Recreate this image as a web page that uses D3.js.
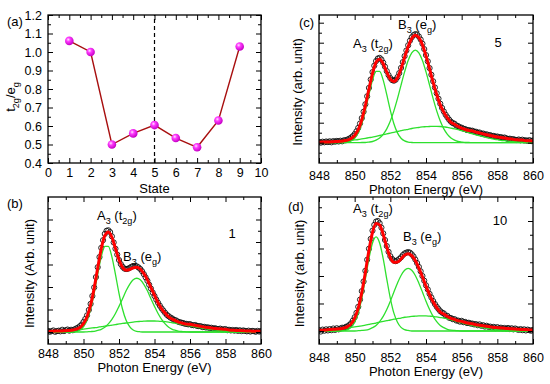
<!DOCTYPE html>
<html>
<head>
<meta charset="utf-8">
<script src="https://cdn.jsdelivr.net/npm/d3@7"></script>
<style>
  body { margin: 0; background: #fff; }
  svg { display: block; font-family: "Liberation Sans", Arial, sans-serif; }
</style>
</head>
<body>
<div id="container"></div>
<script>
/* DATA */
// (a) t2g/eg ratio per state
const states = [1, 2, 3, 4, 5, 6, 7, 8, 9];
const ratio = [1.06, 1.00, 0.50, 0.56, 0.605, 0.535, 0.485, 0.63, 1.03];
const markState = 5;

// spectra: measured points every 0.1 eV, fit curves every 0.2 eV, from 848 eV
const eStart = 848, dataStep = 0.1, fitStep = 0.2;

// state 1
const data1 = [.05,.01,.04,.07,.01,.04,.06,.03,.10,.04,
  .08,.11,.06,.10,.08,.12,.16,.20,.26,.33,
  .45,.58,.74,.98,1.25,1.60,1.98,2.44,2.88,3.33,
  3.74,4.08,4.36,4.50,4.52,4.44,4.25,3.98,3.70,3.44,
  3.20,3.02,2.90,2.82,2.80,2.81,2.85,2.90,2.93,2.94,
  2.92,2.87,2.80,2.70,2.57,2.43,2.28,2.10,1.93,1.75,
  1.60,1.44,1.30,1.17,1.05,.95,.85,.76,.70,.64,
  .60,.54,.52,.47,.44,.42,.40,.37,.36,.34,
  .35,.31,.30,.31,.27,.26,.26,.22,.23,.20,
  .21,.18,.19,.15,.17,.14,.13,.15,.11,.12,
  .13,.08,.10,.07,.09,.06,.09,.05,.08,.04,
  .07,.05,.03,.06,.02,.05,.04,.01,.05,.02,
  .04];
const fit1 = [.02,.03,.04,.04,.05,.06,.07,.09,.13,.20,.37,.68,1.20,1.94,2.84,3.70,4.28,4.45,4.21,3.71,
  3.22,2.87,2.75,2.78,2.85,2.88,2.80,2.60,2.32,1.97,1.63,1.30,1.03,.84,.67,.57,.50,.43,.39,.35,
  .34,.31,.28,.25,.22,.20,.18,.16,.14,.13,.12,.09,.08,.07,.07,.06,.04,.04,.03,.03,.03];
const a3Fit1 = [0,0,0,0,0,0,0,.01,.03,.09,.24,.52,1.01,1.72,2.56,3.34,3.81,3.81,3.34,2.56,
  1.72,1.01,.52,.24,.09,.03,.01,0,0,0,0,0,0,0,0,0,0,0,0,0,
  0,0,0,0,0,0,0,0,0,0,0,0,0,0,0,0,0,0,0,0,0];
const b3Fit1 = [0,0,0,0,0,0,0,0,0,0,0,.01,.02,.03,.07,.12,.21,.36,.56,.82,
  1.14,1.48,1.83,2.12,2.32,2.39,2.32,2.12,1.83,1.48,1.14,.82,.56,.36,.21,.12,.07,.03,.02,.01,
  0,0,0,0,0,0,0,0,0,0,0,0,0,0,0,0,0,0,0,0,0];
const bgFit1 = [.02,.03,.04,.04,.05,.06,.07,.08,.10,.11,.13,.15,.17,.19,.21,.24,.26,.28,.31,.33,
  .36,.38,.40,.42,.44,.46,.47,.48,.49,.49,.49,.48,.47,.46,.44,.41,.39,.36,.33,.30,
  .27,.24,.21,.18,.15,.13,.11,.09,.07,.06,.05,.04,.03,.02,.02,.01,.01,.01,.01,0,0];

// state 5
const data5 = [.04,.00,.05,.02,.06,.03,.07,.02,.08,.05,
  .09,.06,.10,.07,.12,.12,.16,.20,.26,.33,
  .43,.57,.74,.96,1.23,1.55,1.92,2.32,2.74,3.16,
  3.53,3.85,4.08,4.21,4.24,4.16,4.00,3.80,3.58,3.38,
  3.23,3.13,3.10,3.15,3.28,3.48,3.74,4.03,4.33,4.61,
  4.87,5.10,5.27,5.38,5.43,5.41,5.31,5.16,4.95,4.68,
  4.38,4.07,3.73,3.40,3.07,2.76,2.47,2.20,1.95,1.74,
  1.56,1.40,1.27,1.15,1.05,.98,.95,.86,.83,.77,
  .75,.70,.68,.63,.63,.60,.60,.55,.55,.50,
  .51,.45,.46,.41,.42,.37,.38,.33,.34,.30,
  .31,.27,.28,.24,.26,.22,.19,.20,.17,.18,
  .14,.13,.16,.12,.15,.11,.12,.09,.13,.08,
  .11];
const fit5 = [.02,.03,.03,.04,.05,.06,.07,.10,.13,.21,.36,.65,1.15,1.85,2.68,3.47,4.02,4.17,3.95,3.53,
  3.18,3.06,3.25,3.70,4.27,4.81,5.21,5.37,5.25,4.90,4.34,3.69,3.02,2.41,1.89,1.53,1.24,1.02,.92,.81,
  .73,.66,.61,.59,.53,.49,.44,.40,.36,.32,.29,.26,.24,.20,.18,.15,.14,.13,.10,.10,.09];
const a3Fit5 = [0,0,0,0,0,0,0,.01,.03,.09,.22,.49,.95,1.62,2.40,3.13,3.57,3.57,3.13,2.40,
  1.62,.95,.49,.22,.09,.03,.01,0,0,0,0,0,0,0,0,0,0,0,0,0,
  0,0,0,0,0,0,0,0,0,0,0,0,0,0,0,0,0,0,0,0,0];
const b3Fit5 = [0,0,0,0,0,0,0,0,0,0,0,0,.01,.01,.03,.06,.13,.24,.42,.69,
  1.08,1.59,2.20,2.88,3.54,4.11,4.49,4.63,4.49,4.11,3.54,2.88,2.20,1.59,1.08,.69,.42,.24,.13,.06,
  .03,.01,.01,0,0,0,0,0,0,0,0,0,0,0,0,0,0,0,0,0,0];
const bgFit5 = [.02,.03,.03,.04,.05,.06,.07,.09,.10,.12,.14,.16,.19,.22,.25,.28,.32,.36,.40,.44,
  .48,.52,.56,.60,.64,.67,.71,.74,.76,.79,.80,.81,.82,.82,.81,.79,.77,.73,.69,.65,
  .60,.55,.50,.45,.39,.35,.30,.26,.22,.18,.15,.12,.10,.08,.06,.05,.04,.03,.02,.02,.01];

// state 10
const data10 = [.03,-.02,.05,.01,.06,.02,.07,.03,.09,.04,
  .10,.06,.09,.12,.11,.15,.17,.22,.28,.38,
  .50,.66,.88,1.14,1.45,1.80,2.19,2.59,2.99,3.35,
  3.65,3.86,3.98,4.00,3.92,3.76,3.55,3.31,3.09,2.88,
  2.72,2.62,2.56,2.54,2.57,2.62,2.68,2.76,2.82,2.85,
  2.87,2.85,2.79,2.71,2.60,2.47,2.33,2.17,2.00,1.83,
  1.66,1.51,1.35,1.22,1.09,.98,.88,.80,.72,.67,
  .64,.56,.55,.48,.47,.43,.43,.38,.38,.34,
  .37,.32,.33,.29,.30,.27,.27,.24,.25,.21,
  .24,.19,.21,.16,.19,.15,.16,.12,.15,.10,
  .14,.10,.12,.09,.11,.08,.11,.07,.10,.06,
  .09,.06,.04,.07,.03,.06,.02,.05,.03,.01,
  .04];
const fit10 = [.03,.03,.04,.05,.06,.07,.08,.11,.16,.26,.47,.83,1.40,2.13,2.93,3.59,3.91,3.86,3.51,3.05,
  2.67,2.50,2.51,2.62,2.76,2.81,2.74,2.56,2.29,1.97,1.63,1.32,1.06,.85,.69,.62,.53,.46,.42,.37,
  .35,.31,.28,.26,.23,.21,.19,.17,.15,.13,.12,.11,.10,.09,.08,.07,.06,.05,.05,.04,.04];
const a3Fit10 = [0,0,0,0,0,0,0,.02,.05,.13,.32,.65,1.19,1.89,2.63,3.20,3.42,3.20,2.63,1.89,
  1.19,.65,.32,.13,.05,.02,0,0,0,0,0,0,0,0,0,0,0,0,0,0,
  0,0,0,0,0,0,0,0,0,0,0,0,0,0,0,0,0,0,0,0,0];
const b3Fit10 = [0,0,0,0,0,0,0,0,0,0,0,.01,.02,.03,.06,.12,.20,.34,.53,.78,
  1.08,1.42,1.74,2.02,2.21,2.28,2.21,2.02,1.74,1.42,1.08,.78,.53,.34,.20,.12,.06,.03,.02,.01,
  0,0,0,0,0,0,0,0,0,0,0,0,0,0,0,0,0,0,0,0,0];
const bgFit10 = [.03,.03,.04,.05,.06,.07,.08,.09,.11,.13,.15,.17,.19,.21,.24,.27,.29,.32,.35,.38,
  .40,.43,.45,.47,.50,.51,.53,.54,.55,.55,.55,.54,.53,.51,.49,.47,.44,.40,.37,.33,
  .30,.26,.23,.20,.17,.15,.12,.10,.08,.07,.05,.04,.03,.03,.02,.02,.01,.01,.01,0,0];

// tick labels / annotations
const energyTicks = [848, 850, 852, 854, 856, 858, 860];
const stateTicks = [0, 1, 2, 3, 4, 5, 6, 7, 8, 9, 10];
const ratioTicks = [0.4, 0.5, 0.6, 0.7, 0.8, 0.9, 1.0, 1.1, 1.2];

/* CONSTANTS AND GLOBALS */
const width = 550, height = 384;
const font = 13, tickFont = 12.5;
const red = "#ff0000", green = "#2ee02e", lineRed = "#a80f0f";

const svg = d3.select("#container")
  .append("svg")
  .attr("width", width)
  .attr("height", height);

const defs = svg.append("defs");
const ball = defs.append("radialGradient").attr("id", "ball")
  .attr("cx", "38%").attr("cy", "35%").attr("r", "65%");
ball.append("stop").attr("offset", "0%").attr("stop-color", "#ffe6ff");
ball.append("stop").attr("offset", "35%").attr("stop-color", "#ff3cff");
ball.append("stop").attr("offset", "100%").attr("stop-color", "#c400c4");

// text with subscripts: parts = [[text, isSub], ...]
function richText(sel, parts, size) {
  let down = false;
  parts.forEach(([t, sub]) => {
    const ts = sel.append("tspan").text(t).attr("font-size", sub ? size * 0.7 : size);
    if (sub && !down) { ts.attr("dy", size * 0.3); down = true; }
    else if (!sub && down) { ts.attr("dy", -size * 0.3); down = false; }
  });
  return sel;
}

// inward ticks on all four sides, major + minor
function drawFrame(g, x, y, o) {
  const [xl, xr] = x.range(), [yb, yt] = y.range();
  const side = (axis, tr, vals, len, fmt, pad) => g.append("g")
    .attr("transform", tr)
    .call(axis.tickValues(vals).tickSize(-len).tickPadding(pad || 3).tickFormat(fmt || ""))
    .call(a => a.select(".domain").remove())
    .call(a => a.selectAll("line").attr("stroke", "#000").attr("stroke-width", 1))
    .call(a => a.selectAll("text").attr("font-size", tickFont).attr("font-family", "Liberation Sans, Arial, sans-serif").attr("fill", "#000"));

  side(d3.axisBottom(x), `translate(0,${yb})`, o.xMajor, 5, o.xFmt, o.xPad);
  side(d3.axisBottom(x), `translate(0,${yb})`, o.xMinor, 3);
  side(d3.axisTop(x), `translate(0,${yt})`, o.xMajor, 5);
  side(d3.axisTop(x), `translate(0,${yt})`, o.xMinor, 3);
  side(d3.axisLeft(y), `translate(${xl},0)`, o.yMajor, 5, o.yFmt, 6);
  side(d3.axisLeft(y), `translate(${xl},0)`, o.yMinor, 3);
  side(d3.axisRight(y), `translate(${xr},0)`, o.yMajor, 5);
  side(d3.axisRight(y), `translate(${xr},0)`, o.yMinor, 3);

  g.append("rect")
    .attr("x", xl).attr("y", yt)
    .attr("width", xr - xl).attr("height", yb - yt)
    .attr("fill", "none").attr("stroke", "#000").attr("stroke-width", 1.3);
}

/* PANEL (a) */
{
  const box = { left: 48, right: 261, top: 15, bottom: 163 };
  const x = d3.scaleLinear().domain([0, 10]).range([box.left, box.right]);
  const y = d3.scaleLinear().domain([0.4, 1.2]).range([box.bottom, box.top]);
  const g = svg.append("g");

  g.append("line")
    .attr("x1", x(markState)).attr("x2", x(markState))
    .attr("y1", y.range()[0]).attr("y2", y.range()[1])
    .attr("stroke", "#000").attr("stroke-width", 1.2)
    .attr("stroke-dasharray", "4,3");

  const pts = states.map((s, i) => [s, ratio[i]]);
  g.append("path")
    .datum(pts)
    .attr("d", d3.line().x(d => x(d[0])).y(d => y(d[1])))
    .attr("fill", "none").attr("stroke", lineRed).attr("stroke-width", 1.4);

  g.selectAll(".ball")
    .data(pts)
    .join("circle")
    .attr("class", "ball")
    .attr("cx", d => x(d[0])).attr("cy", d => y(d[1]))
    .attr("r", 4.3)
    .attr("fill", "url(#ball)");

  drawFrame(g, x, y, {
    xMajor: stateTicks, xMinor: stateTicks.slice(0, -1).map(d => d + 0.5), xFmt: d3.format("d"), xPad: 5,
    yMajor: ratioTicks, yMinor: ratioTicks.slice(0, -1).map(d => d + 0.05), yFmt: d3.format(".1f")
  });

  g.append("text").attr("x", 7).attr("y", 26).attr("font-size", font).text("(a)");
  g.append("text").attr("x", (box.left + box.right) / 2).attr("y", 192.5)
    .attr("text-anchor", "middle").attr("font-size", font).text("State");
  richText(g.append("text")
    .attr("transform", "translate(15,97) rotate(-90)")
    .attr("text-anchor", "middle"), [["t", 0], ["2g", 1], ["/e", 0], ["g", 1]], font);
}

/* SPECTRA PANELS */
const panels = [
  { tag: "(b)", no: "1", box: { left: 48, right: 261, top: 197, bottom: 344 }, yDomain: [-0.533, 6.0],
    data: data1, fit: fit1, comps: [a3Fit1, b3Fit1, bgFit1], xPad: 5, ylab: "Intensity (Arb. unit)",
    ylabX: 34, tagXY: [7, 208], titleY: 372,
    a3: [850.76, 4.98], b3: [852.23, 3.15], noXY: [858.37, 4.18] },
  { tag: "(c)", no: "5", box: { left: 319, right: 533, top: 15, bottom: 163 }, yDomain: [-1.015, 6.385],
    data: data5, fit: fit5, comps: [a3Fit5, b3Fit5, bgFit5], xPad: 8, ylab: "Intensity (arb. unit)",
    ylabX: 302, tagXY: [299, 27], titleY: 194,
    a3: [849.91, 4.72], b3: [852.43, 5.67], noXY: [858.04, 4.79] },
  { tag: "(d)", no: "10", box: { left: 319, right: 533, top: 197, bottom: 344 }, yDomain: [-0.473, 4.873],
    data: data10, fit: fit10, comps: [a3Fit10, b3Fit10, bgFit10], xPad: 9, ylab: "Intensity (arb. unit)",
    ylabX: 304, tagXY: [288, 211], titleY: 376,
    a3: [849.91, 4.30], b3: [852.71, 3.28], noXY: [858.15, 3.85] }
];

panels.forEach((p, k) => {
  const { box } = p;
  const x = d3.scaleLinear().domain([848, 860]).range([box.left, box.right]);
  const y = d3.scaleLinear().domain(p.yDomain).range([box.bottom, box.top]);
  const g = svg.append("g");

  const clipId = "clip" + k;
  defs.append("clipPath").attr("id", clipId)
    .append("rect").attr("x", box.left).attr("y", box.top)
    .attr("width", box.right - box.left).attr("height", box.bottom - box.top);
  const plot = g.append("g").attr("clip-path", `url(#${clipId})`);

  const line = d3.line()
    .x((d, i) => x(eStart + i * fitStep))
    .y(d => y(d))
    .curve(d3.curveMonotoneX);

  // measured points
  plot.selectAll(".pt")
    .data(p.data)
    .join("circle")
    .attr("class", "pt")
    .attr("cx", (d, i) => x(eStart + i * dataStep))
    .attr("cy", d => y(d))
    .attr("r", 2.6)
    .attr("fill", "none")
    .attr("stroke", "#111")
    .attr("stroke-width", 0.9);

  // fitted components
  p.comps.forEach(c => {
    plot.append("path").datum(c).attr("d", line)
      .attr("fill", "none").attr("stroke", green).attr("stroke-width", 1.3);
  });

  // total fit
  plot.append("path").datum(p.fit).attr("d", line)
    .attr("fill", "none").attr("stroke", red).attr("stroke-width", 3);

  const yMajor = d3.range(Math.ceil(p.yDomain[0]), p.yDomain[1] + 1e-9, 1)
    .filter(v => y(v) < box.bottom - 1.5 && y(v) > box.top + 1.5);
  const yMinor = d3.range(Math.ceil(p.yDomain[0]) - 0.5, p.yDomain[1], 1)
    .filter(v => y(v) < box.bottom - 1.5 && y(v) > box.top + 1.5);

  drawFrame(g, x, y, {
    xMajor: energyTicks, xMinor: energyTicks.slice(0, -1).map(d => d + 1), xFmt: d3.format("d"), xPad: p.xPad,
    yMajor: yMajor, yMinor: yMinor, yFmt: () => ""
  });

  g.append("text").attr("x", p.tagXY[0]).attr("y", p.tagXY[1]).attr("font-size", font).text(p.tag);
  g.append("text").attr("x", (box.left + box.right) / 2).attr("y", p.titleY)
    .attr("text-anchor", "middle").attr("font-size", font).text("Photon Energy (eV)");
  g.append("text")
    .attr("transform", `translate(${p.ylabX},${(box.top + box.bottom) / 2 + 3}) rotate(-90)`)
    .attr("text-anchor", "middle").attr("font-size", font).text(p.ylab);

  richText(g.append("text").attr("x", x(p.a3[0])).attr("y", y(p.a3[1])),
    [["A", 0], ["3", 1], [" (t", 0], ["2g", 1], [")", 0]], font);
  richText(g.append("text").attr("x", x(p.b3[0])).attr("y", y(p.b3[1])),
    [["B", 0], ["3", 1], [" (e", 0], ["g", 1], [")", 0]], font);
  g.append("text").attr("x", x(p.noXY[0])).attr("y", y(p.noXY[1]))
    .attr("text-anchor", "middle").attr("font-size", font).text(p.no);
});
</script>
</body>
</html>
